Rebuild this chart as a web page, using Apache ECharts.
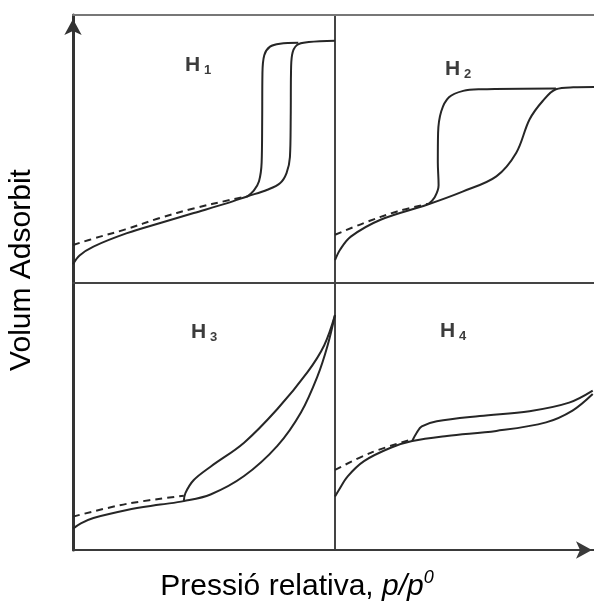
<!DOCTYPE html>
<html>
<head>
<meta charset="utf-8">
<script src="https://cdn.jsdelivr.net/npm/echarts@6/dist/echarts.min.js"></script>
<style>html,body{margin:0;padding:0;background:#fff}#c{width:594px;height:606px}</style>
</head>
<body>
<div id="c"></div>
<script>
// Panel labels
const panelNames = ['1', '2', '3', '4'];
const xAxisTitle = 'Pressió relativa, ';
const xAxisTitleItalic = 'p/p';
const xAxisTitleSup = '0';
const yAxisTitle = 'Volum Adsorbit';

// H1
const h1Ads = [[0,0.07],[0.025,0.103],[0.078,0.136],[0.206,0.186],[0.333,0.224],[0.461,0.261],[0.589,0.298],[0.665,0.323],[0.742,0.348],[0.79,0.372],[0.815,0.41],[0.828,0.47],[0.831,0.62],[0.832,0.78],[0.836,0.85],[0.855,0.888],[0.9,0.899],[1,0.904]];
const h1Des = [[0.665,0.323],[0.69,0.345],[0.71,0.38],[0.72,0.45],[0.722,0.6],[0.723,0.78],[0.73,0.85],[0.752,0.882],[0.79,0.893],[0.86,0.896]];
const h1Dash = [[0,0.142],[0.1,0.172],[0.2,0.2],[0.333,0.243],[0.46,0.278],[0.6,0.31],[0.665,0.323]];
// H2
const h2Ads = [[0,0.085],[0.02,0.125],[0.061,0.173],[0.176,0.236],[0.355,0.292],[0.495,0.342],[0.623,0.398],[0.7,0.486],[0.751,0.61],[0.802,0.679],[0.853,0.723],[0.92,0.73],[1,0.731]];
const h2Des = [[0.362,0.296],[0.385,0.32],[0.4,0.365],[0.397,0.45],[0.398,0.56],[0.41,0.64],[0.44,0.693],[0.495,0.717],[0.56,0.723],[0.853,0.726]];
const h2Dash = [[0,0.18],[0.112,0.224],[0.24,0.267],[0.362,0.296]];
// H3
const h3Ads = [[0,0.08],[0.03,0.1],[0.078,0.12],[0.206,0.15],[0.333,0.17],[0.423,0.183],[0.525,0.208],[0.653,0.277],[0.78,0.39],[0.87,0.515],[0.934,0.653],[0.972,0.767],[1,0.88]];
const h3Des = [[0.423,0.183],[0.429,0.213],[0.461,0.262],[0.525,0.312],[0.653,0.402],[0.78,0.528],[0.895,0.666],[0.959,0.767],[1,0.88]];
const h3Dash = [[0,0.125],[0.206,0.173],[0.423,0.203]];
// H4
const h4Ads = [[0,0.2],[0.015,0.225],[0.049,0.276],[0.112,0.333],[0.215,0.383],[0.298,0.408],[0.432,0.427],[0.623,0.446],[0.815,0.478],[0.917,0.522],[0.995,0.584]];
const h4Des = [[0.298,0.408],[0.316,0.44],[0.335,0.463],[0.393,0.482],[0.559,0.502],[0.751,0.52],[0.904,0.552],[0.995,0.597]];
const h4Dash = [[0,0.3],[0.138,0.364],[0.298,0.415]];

const panels = [
  {ads: h1Ads, des: h1Des, dash: h1Dash},
  {ads: h2Ads, des: h2Des, dash: h2Dash},
  {ads: h3Ads, des: h3Des, dash: h3Dash},
  {ads: h4Ads, des: h4Des, dash: h4Dash}
];

const FRAME = '#3a3a3a';
const CURVE = '#262626';
const grids = [
  {left: 73, top: 15, width: 262, height: 268},
  {left: 335, top: 15, width: 259, height: 268},
  {left: 73, top: 283, width: 262, height: 267},
  {left: 335, top: 283, width: 259, height: 267}
];

function axisBase(gi, pos, show, color, width, symbol, symOff) {
  return {
    type: 'value', gridIndex: gi, position: pos, min: 0, max: 1,
    axisLabel: {show: false}, axisTick: {show: false}, splitLine: {show: false},
    axisLine: {show: show, onZero: false, lineStyle: {color: color || FRAME, width: width || 2},
      symbol: symbol || ['none', 'none'], symbolSize: [13, 16], symbolOffset: [0, symOff || 0]}
  };
}

const xAxes = [
  axisBase(0, 'bottom', true, '#444', 2),
  axisBase(0, 'top', true, '#777', 2),
  axisBase(1, 'bottom', true, '#444', 2),
  axisBase(1, 'top', true, '#777', 2),
  axisBase(2, 'bottom', true, '#3a3a3a', 2),
  axisBase(3, 'bottom', true, '#3a3a3a', 2, ['none', 'arrow'], -2)
];
const yAxes = [
  axisBase(0, 'left', true, '#333', 3, ['none', 'arrow'], -4),
  axisBase(1, 'left', true, '#444', 2),
  axisBase(2, 'left', true, '#333', 3),
  axisBase(3, 'left', true, '#444', 2)
];
const xIdx = [0, 2, 4, 5];

const series = [];
panels.forEach((p, i) => {
  const common = {type: 'line', xAxisIndex: xIdx[i], yAxisIndex: i, showSymbol: false, smooth: 0.35, silent: true};
  series.push(Object.assign({}, common, {data: p.ads, lineStyle: {color: CURVE, width: 2}}));
  series.push(Object.assign({}, common, {data: p.des, lineStyle: {color: CURVE, width: 2}}));
  series.push(Object.assign({}, common, {data: p.dash, lineStyle: {color: CURVE, width: 2, type: [7, 5]}}));
});

const labelPos = [[195, 66], [455, 70], [201, 333], [450, 332]];
const graphics = [];
labelPos.forEach((lp, i) => {
  graphics.push({type: 'text', left: lp[0] - 10, top: lp[1] - 11,
    style: {text: 'H', font: 'bold 21px "Liberation Sans", Arial, sans-serif', fill: '#3c3c3c'}});
  graphics.push({type: 'text', left: lp[0] + 9, top: lp[1] - 2,
    style: {text: panelNames[i], font: 'bold 13px "Liberation Sans", Arial, sans-serif', fill: '#3c3c3c'}});
});
graphics.push({
  type: 'text', left: 'center', top: 569,
  style: {
    text: '{n|' + xAxisTitle + '}{i|' + xAxisTitleItalic + '}{s|' + xAxisTitleSup + '}',
    rich: {
      n: {fontFamily: '"Liberation Sans", Arial, sans-serif', fontSize: 30, lineHeight: 35, fill: '#000'},
      i: {fontFamily: '"Liberation Sans", Arial, sans-serif', fontSize: 30, fontStyle: 'italic', lineHeight: 35, fill: '#000'},
      s: {fontFamily: '"Liberation Sans", Arial, sans-serif', fontSize: 18, fontStyle: 'italic', lineHeight: 20, verticalAlign: 'top', fill: '#000'}
    }
  }
});
graphics.push({
  type: 'text', x: 22, y: 270, rotation: Math.PI / 2,
  style: {text: yAxisTitle, font: '30px "Liberation Sans", Arial, sans-serif', fill: '#000', align: 'center', verticalAlign: 'middle'}
});

const chart = echarts.init(document.getElementById('c'), null, {renderer: 'canvas'});
chart.setOption({
  animation: false,
  backgroundColor: '#fff',
  grid: grids,
  xAxis: xAxes,
  yAxis: yAxes,
  series: series,
  graphic: graphics
});
</script>
</body>
</html>
